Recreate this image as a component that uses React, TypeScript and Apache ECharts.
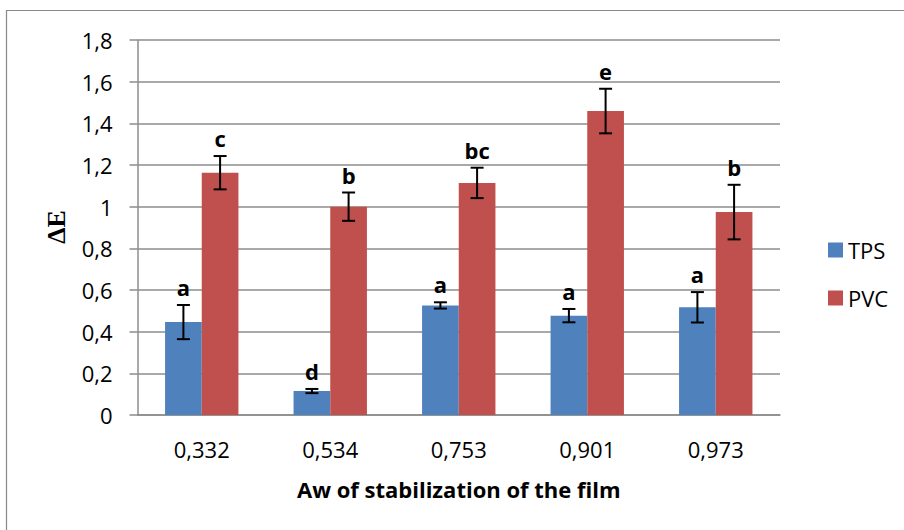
import React, { useEffect, useRef } from "react";
import * as echarts from "echarts";

const categories = ["0,332", "0,534", "0,753", "0,901", "0,973"];
const tpsValues = [0.446, 0.115, 0.526, 0.477, 0.517];
const tpsErrors = [0.082, 0.01, 0.015, 0.032, 0.073];
const tpsLetters = ["a", "d", "a", "a", "a"];
const pvcValues = [1.163, 1.0, 1.114, 1.459, 0.974];
const pvcErrors = [0.08, 0.068, 0.073, 0.107, 0.131];
const pvcLetters = ["c", "b", "bc", "e", "b"];
const yTicks = { min: 0, max: 1.8, interval: 0.2 };

const FONT = '"Open Sans", "Noto Sans", sans-serif';
const CAT_GAP = 0.429;
const BLUE = "#4F81BD";
const RED = "#C0504D";
const GRID_COLOR = "#8c8c8c";

function errorSeries(values: number[], errs: number[], letters: string[], side: number) {
  return {
    type: "custom",
    silent: true,
    z: 10,
    data: values.map((v, i) => [i, v, errs[i]]),
    encode: { x: 0, y: 1 },
    renderItem: (params: any, api: any) => {
      const i = api.value(0);
      const v = api.value(1);
      const e = api.value(2);
      const letter = letters[params.dataIndex];
      const center = api.coord([i, v]);
      const catW = api.size([1, 0])[0];
      const barW = (catW * (1 - CAT_GAP)) / 2;
      const x = center[0] + (side * barW) / 2;
      const top = api.coord([i, v + e])[1];
      const bot = api.coord([i, v - e])[1];
      const cap = 6.5;
      const lineStyle = { stroke: "#000", lineWidth: 2 };
      return {
        type: "group",
        children: [
          { type: "line", shape: { x1: x, y1: top, x2: x, y2: bot }, style: lineStyle },
          { type: "line", shape: { x1: x - cap, y1: top, x2: x + cap, y2: top }, style: lineStyle },
          { type: "line", shape: { x1: x - cap, y1: bot, x2: x + cap, y2: bot }, style: lineStyle },
          {
            type: "text",
            x: x,
            y: top - 7,
            style: {
              text: letter,
              align: "center",
              verticalAlign: "bottom",
              fontSize: 22,
              fontWeight: "bold",
              fontFamily: FONT,
              lineHeight: 22,
              fill: "#000",
            },
          },
        ],
      };
    },
  };
}

export default function App() {
  const ref = useRef<HTMLDivElement>(null);
  useEffect(() => {
    if (!ref.current) return;
    const chart = echarts.init(ref.current, null, { renderer: "svg" });
    chart.setOption({
      animation: false,
      backgroundColor: "#fff",
      grid: { left: 137.5, right: 124, top: 40, bottom: 115, containLabel: false },
      legend: {
        data: ["TPS", "PVC"],
        orient: "vertical",
        left: 823,
        top: 234,
        icon: "rect",
        itemWidth: 15,
        itemHeight: 15,
        itemGap: 26,
        textStyle: { fontSize: 22, fontFamily: FONT, color: "#000", lineHeight: 22 },
      },
      graphic: [
        {
          type: "rect",
          silent: true,
          z: -10,
          shape: { x: 6.5, y: 10.5, width: 1000, height: 1000 },
          style: { fill: "none", stroke: "#888", lineWidth: 1.2 },
        },
        {
          type: "text",
          x: 56.7,
          y: 227,
          rotation: Math.PI / 2,
          style: {
            text: "ΔE",
            align: "center",
            verticalAlign: "middle",
            fontSize: 26,
            fontWeight: "bold",
            fontFamily: '"Liberation Serif", "DejaVu Serif", serif',
            fill: "#000",
          },
        },
      ],
      xAxis: {
        type: "category",
        data: categories,
        boundaryGap: true,
        name: "Aw of stabilization of the film",
        nameLocation: "middle",
        nameGap: 63,
        nameTextStyle: { fontSize: 22, fontWeight: "bold", fontFamily: FONT, color: "#000", lineHeight: 22 },
        axisLine: { show: true, lineStyle: { color: GRID_COLOR, width: 1.5 } },
        axisTick: { show: false },
        axisLabel: { margin: 23, fontSize: 22, fontFamily: FONT, color: "#000", lineHeight: 22 },
      },
      yAxis: {
        type: "value",
        min: yTicks.min,
        max: yTicks.max,
        interval: yTicks.interval,
        axisLine: { show: true, lineStyle: { color: GRID_COLOR, width: 1.5 } },
        axisTick: { show: true, length: 8, lineStyle: { color: GRID_COLOR, width: 1.5 } },
        splitLine: { show: true, lineStyle: { color: GRID_COLOR, width: 1.5 } },
        axisLabel: {
          margin: 25,
          fontSize: 22,
          fontFamily: FONT,
          color: "#000",
          formatter: (v: number) => String(Math.round(v * 10) / 10).replace(".", ","),
        },
      },
      series: [
        {
          name: "TPS",
          type: "bar",
          data: tpsValues,
          itemStyle: { color: BLUE },
          barGap: "0%",
          barCategoryGap: (CAT_GAP * 100).toFixed(1) + "%",
        },
        {
          name: "PVC",
          type: "bar",
          data: pvcValues,
          itemStyle: { color: RED },
          barGap: "0%",
          barCategoryGap: (CAT_GAP * 100).toFixed(1) + "%",
        },
        errorSeries(tpsValues, tpsErrors, tpsLetters, -1),
        errorSeries(pvcValues, pvcErrors, pvcLetters, 1),
      ],
    });
    return () => chart.dispose();
  }, []);
  return (
    <div
      ref={ref}
      style={{ position: "absolute", left: 0, top: 0, width: 904, height: 530 }}
    />
  );
}
